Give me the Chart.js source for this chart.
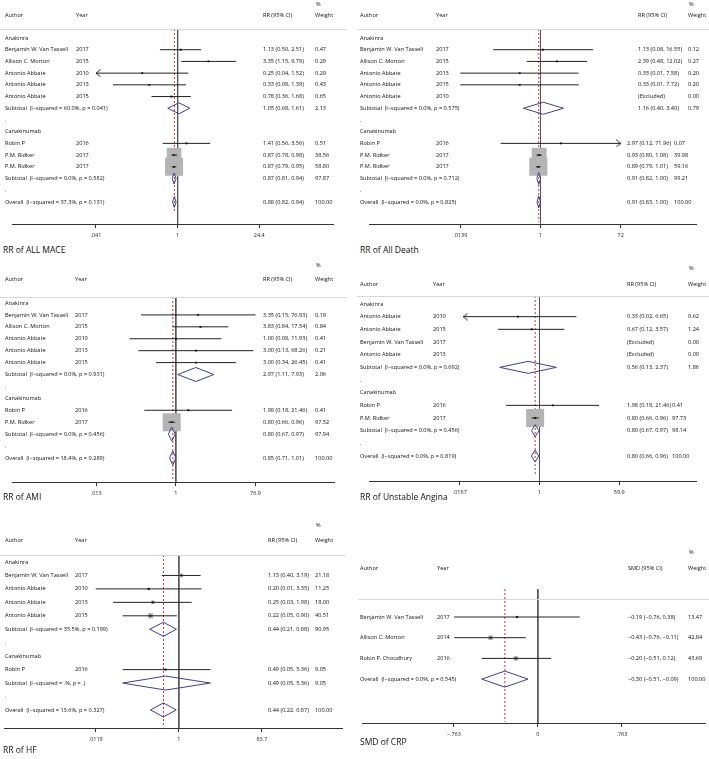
<!DOCTYPE html>
<html>
<head>
<meta charset="utf-8">
<script src="https://cdn.jsdelivr.net/npm/chart.js@4.4.1/dist/chart.umd.min.js"></script>
<style>
  body { margin: 0; background: #fff; }
  #page { position: relative; width: 709px; height: 759px; overflow: hidden; background: #fff; }
  .panel { position: absolute; }
  .title { position: absolute; font-family: "Open Sans", sans-serif; font-size: 8.5px; color: #111; white-space: nowrap; line-height: 10px; }
</style>
</head>
<body>
<div id="page"></div>
<script>
// RR of ALL MACE
const maceAuthors = ["Anakinra", "Benjamin W. Van Tassell", "Allison C. Morton", "Antonio Abbate", "Antonio Abbate", "Antonio Abbate", "Subtotal  (I\u2212squared = 60.0%, p = 0.041)", ".", "Canakinumab", "Robin P", "P.M. Ridker", "P.M. Ridker", "Subtotal  (I\u2212squared = 0.0%, p = 0.582)", ".", "Overall  (I\u2212squared = 37.3%, p = 0.131)"];
const maceYears = ["", "2017", "2015", "2010", "2013", "2015", "", "", "", "2016", "2017", "2017", "", "", ""];
const maceKinds = ["g", "s", "s", "s", "s", "s", "sub", "b", "g", "s", "s", "s", "sub", "b", "all"];
const maceEst = [null, 1.13, 3.35, 0.25, 0.33, 0.78, 1.05, null, null, 1.41, 0.87, 0.87, 0.87, null, 0.88];
const maceLow = [null, 0.50, 1.15, 0.04, 0.08, 0.36, 0.68, null, null, 0.56, 0.78, 0.79, 0.81, null, 0.82];
const maceHigh = [null, 2.51, 9.79, 1.52, 1.39, 1.68, 1.61, null, null, 3.56, 0.98, 0.95, 0.94, null, 0.94];
const maceWeight = [null, 0.47, 0.29, 0.29, 0.43, 0.65, 2.13, null, null, 0.51, 38.56, 58.80, 97.87, null, 100.00];
const maceTicks = [0.041, 1, 24.4];
const maceTickLabels = [".041", "1", "24.4"];

// RR of All Death
const deathAuthors = ["Anakinra", "Benjamin W. Van Tassell", "Allison C. Morton", "Antonio Abbate", "Antonio Abbate", "Antonio Abbate", "Subtotal  (I\u2212squared = 0.0%, p = 0.575)", ".", "Canakinumab", "Robin P", "P.M. Ridker", "P.M. Ridker", "Subtotal  (I\u2212squared = 0.0%, p = 0.712)", ".", "Overall  (I\u2212squared = 0.0%, p = 0.825)"];
const deathYears = ["", "2017", "2015", "2013", "2015", "2010", "", "", "", "2016", "2017", "2017", "", "", ""];
const deathKinds = ["g", "s", "s", "s", "s", "x", "sub", "b", "g", "s", "s", "s", "sub", "b", "all"];
const deathEst = [null, 1.13, 2.39, 0.33, 0.33, null, 1.16, null, null, 2.97, 0.93, 0.89, 0.91, null, 0.91];
const deathLow = [null, 0.08, 0.48, 0.01, 0.01, null, 0.40, null, null, 0.12, 0.80, 0.79, 0.82, null, 0.83];
const deathHigh = [null, 16.55, 12.02, 7.58, 7.72, null, 3.40, null, null, 71.96, 1.08, 1.01, 1.00, null, 1.00];
const deathWeight = [null, 0.12, 0.27, 0.20, 0.20, 0.00, 0.79, null, null, 0.07, 39.98, 59.16, 99.21, null, 100.00];
const deathTicks = [0.0139, 1, 72];
const deathTickLabels = [".0139", "1", "72"];

// RR of AMI
const amiAuthors = ["Anakinra", "Benjamin W. Van Tassell", "Allison C. Morton", "Antonio Abbate", "Antonio Abbate", "Antonio Abbate", "Subtotal  (I\u2212squared = 0.0%, p = 0.931)", ".", "Canakinumab", "Robin P", "P.M. Ridker", "Subtotal  (I\u2212squared = 0.0%, p = 0.456)", ".", "Overall  (I\u2212squared = 18.4%, p = 0.289)"];
const amiYears = ["", "2017", "2015", "2010", "2013", "2015", "", "", "", "2016", "2017", "", "", ""];
const amiKinds = ["g", "s", "s", "s", "s", "s", "sub", "b", "g", "s", "s", "sub", "b", "all"];
const amiEst = [null, 3.35, 3.83, 1.00, 3.00, 3.00, 2.97, null, null, 1.98, 0.80, 0.80, null, 0.85];
const amiLow = [null, 0.15, 0.84, 0.08, 0.13, 0.34, 1.11, null, null, 0.18, 0.66, 0.67, null, 0.71];
const amiHigh = [null, 76.93, 17.54, 11.93, 68.26, 26.45, 7.93, null, null, 21.46, 0.96, 0.97, null, 1.01];
const amiWeight = [null, 0.19, 0.84, 0.41, 0.21, 0.41, 2.06, null, null, 0.41, 97.52, 97.94, null, 100.00];
const amiTicks = [0.013, 1, 76.9];
const amiTickLabels = [".013", "1", "76.9"];

// RR of Unstable Angina
const uaAuthors = ["Anakinra", "Antonio Abbate", "Antonio Abbate", "Benjamin W. Van Tassell", "Antonio Abbate", "Subtotal  (I\u2212squared = 0.0%, p = 0.692)", ".", "Canakinumab", "Robin P", "P.M. Ridker", "Subtotal  (I\u2212squared = 0.0%, p = 0.456)", ".", "Overall  (I\u2212squared = 0.0%, p = 0.819)"];
const uaYears = ["", "2010", "2015", "2017", "2013", "", "", "", "2016", "2017", "", "", ""];
const uaKinds = ["g", "s", "s", "x", "x", "sub", "b", "g", "s", "s", "sub", "b", "all"];
const uaEst = [null, 0.33, 0.67, null, null, 0.56, null, null, 1.98, 0.80, 0.80, null, 0.80];
const uaLow = [null, 0.02, 0.12, null, null, 0.13, null, null, 0.18, 0.66, 0.67, null, 0.66];
const uaHigh = [null, 6.65, 3.57, null, null, 2.37, null, null, 21.46, 0.96, 0.97, null, 0.96];
const uaWeight = [null, 0.62, 1.24, 0.00, 0.00, 1.86, null, null, 0.41, 97.73, 98.14, null, 100.00];
const uaTicks = [0.0167, 1, 59.9];
const uaTickLabels = [".0167", "1", "59.9"];

// RR of HF
const hfAuthors = ["Anakinra", "Benjamin W. Van Tassell", "Antonio Abbate", "Antonio Abbate", "Antonio Abbate", "Subtotal  (I\u2212squared = 35.5%, p = 0.199)", ".", "Canakinumab", "Robin P", "Subtotal  (I\u2212squared = .%, p = .)", ".", "Overall  (I\u2212squared = 13.6%, p = 0.327)"];
const hfYears = ["", "2017", "2010", "2013", "2015", "", "", "", "2016", "", "", ""];
const hfKinds = ["g", "s", "s", "s", "s", "sub", "b", "g", "s", "sub", "b", "all"];
const hfEst = [null, 1.13, 0.20, 0.25, 0.22, 0.44, null, null, 0.49, 0.49, null, 0.44];
const hfLow = [null, 0.40, 0.01, 0.03, 0.05, 0.21, null, null, 0.05, 0.05, null, 0.22];
const hfHigh = [null, 3.19, 3.35, 1.98, 0.90, 0.88, null, null, 5.36, 5.36, null, 0.87];
const hfWeight = [null, 21.18, 11.25, 18.00, 40.51, 90.95, null, null, 9.05, 9.05, null, 100.00];
const hfTicks = [0.0119, 1, 83.7];
const hfTickLabels = [".0119", "1", "83.7"];

// SMD of CRP
const crpAuthors = ["Benjamin W. Van Tassell", "Allison C. Morton", "Robin P. Choudhury", "Overall  (I\u2212squared = 0.0%, p = 0.545)"];
const crpYears = ["2017", "2014", "2016", ""];
const crpKinds = ["s", "s", "s", "all"];
const crpEst = [-0.19, -0.43, -0.20, -0.30];
const crpLow = [-0.76, -0.76, -0.51, -0.51];
const crpHigh = [0.38, -0.11, 0.12, -0.09];
const crpWeight = [13.47, 42.84, 43.69, 100.00];
const crpTicks = [-0.763, 0, 0.763];
const crpTickLabels = ["\u2212.763", "0", ".763"];

const FONT = '"Open Sans", sans-serif';
const fmt = v => (v < 0 ? "\u2212" : "") + Math.abs(v).toFixed(2);

// little open chevrons for clipped confidence intervals
function arrowImg(dir) {
  const cv = document.createElement("canvas");
  cv.width = 10; cv.height = 8;
  const c = cv.getContext("2d");
  c.strokeStyle = "#222"; c.lineWidth = 1;
  c.beginPath();
  if (dir === "left") { c.moveTo(9.5, 0.5); c.lineTo(5, 4); c.lineTo(9.5, 7.5); }
  else { c.moveTo(0.5, 0.5); c.lineTo(5, 4); c.lineTo(0.5, 7.5); }
  c.stroke();
  return cv;
}

function forest(p) {
  const page = document.getElementById("page");
  const canvas = document.createElement("canvas");
  canvas.width = p.width; canvas.height = p.height;
  canvas.className = "panel";
  canvas.style.left = p.left + "px";
  canvas.style.top = p.top + "px";
  page.appendChild(canvas);

  const t = document.createElement("div");
  t.className = "title";
  t.textContent = p.title;
  t.style.left = p.titleX + "px";
  t.style.top = (p.titleY - 5) + "px";
  page.appendChild(t);

  const axisEnd = p.axisRight || (p.left + p.width);
  const chartTop = p.chartTopY || p.headerY;
  const toRow = y => (y - p.row0Y) / p.rowStep;
  const yMin = toRow(chartTop), yMax = toRow(p.axisY);
  const lu = (p.nullX - p.left) / p.pxPerUnit;
  const ru = (axisEnd - p.nullX) / p.pxPerUnit;
  const xMin = p.log ? Math.exp(-lu) : -lu;
  const xMax = p.log ? Math.exp(ru) : ru;
  const nullVal = p.log ? 1 : 0;
  const tMin = p.ticks[0], tMax = p.ticks[p.ticks.length - 1];
  const overall = p.est[p.est.length - 1];

  const ds = [];
  ds.push({ data: [{ x: nullVal, y: yMin }, { x: nullVal, y: yMax }], showLine: true, borderColor: "#555", borderWidth: 1, pointRadius: 0, order: 6 });
  ds.push({ data: [{ x: overall, y: yMin }, { x: overall, y: toRow(p.redEndY) }], showLine: true, borderColor: "#c8363a", borderWidth: 1, borderDash: [2, 2], pointRadius: 0, order: 5 });

  const boxes = [], marks = [];
  p.kinds.forEach((k, i) => {
    if (k === "s") {
      boxes.push({ x: p.est[i], y: i, r: p.boxK * Math.sqrt(p.weight[i]) / Math.SQRT2 });
      marks.push({ x: p.est[i], y: i });
      const lo = Math.max(p.low[i], tMin), hi = Math.min(p.high[i], tMax);
      ds.push({ data: [{ x: lo, y: i }, { x: hi, y: i }], showLine: true, borderColor: "#222", borderWidth: 1, pointRadius: 0, order: 3 });
    }
    if (k === "sub" || k === "all") {
      const h = p.diamondPx / p.rowStep;
      ds.push({
        data: [{ x: p.low[i], y: i }, { x: p.est[i], y: i - h }, { x: p.high[i], y: i }, { x: p.est[i], y: i + h }, { x: p.low[i], y: i }],
        showLine: true, borderColor: "#3d3f8c", borderWidth: 1, pointRadius: 0, order: 2
      });
    }
  });
  ds.push({ data: boxes, pointStyle: "rect", pointRadius: c => c.raw.r, backgroundColor: "#b4b4b4", borderWidth: 0, order: 4 });
  ds.push({ data: marks, pointStyle: "rect", pointRadius: 1.3, backgroundColor: "#111", borderWidth: 0, order: 1 });
  (p.arrows || []).forEach(([i, dir]) => {
    const x = dir === "left" ? Math.max(p.low[i], tMin) : Math.min(p.high[i], tMax);
    ds.push({ data: [{ x: x, y: i }], pointStyle: arrowImg(dir), pointRadius: 4, order: 1 });
  });

  const table = {
    id: "table",
    afterDraw(chart) {
      const c = chart.ctx, ys = chart.scales.y;
      const top = Math.round(p.headerY - p.top) + 0.5;
      const X = v => v - p.left;
      c.save();
      c.strokeStyle = "#d8d8d8"; c.lineWidth = 1;
      c.beginPath(); c.moveTo(0, top); c.lineTo(p.width, top); c.stroke();
      c.fillStyle = "#111";
      c.font = p.fontPx + "px " + FONT;
      c.textBaseline = "middle"; c.textAlign = "left";
      const hy = p.hdrY - p.top;
      c.fillText("Author", X(p.colAuthor), hy);
      c.fillText("Year", X(p.colYear), hy);
      c.fillText(p.effLabel, X(p.colEff), hy);
      c.fillText("%", X(p.colWeight + 1), p.pctY - p.top);
      c.fillText("Weight", X(p.colWeight), hy);
      p.authors.forEach((a, i) => {
        const y = ys.getPixelForValue(i);
        const k = p.kinds[i];
        c.fillText(a, X(p.colAuthor), y);
        if (p.years[i]) c.fillText(p.years[i], X(p.colYear), y);
        let eff = null;
        if (k === "x") eff = "(Excluded)";
        else if (p.est[i] != null) eff = fmt(p.est[i]) + " (" + fmt(p.low[i]) + ", " + fmt(p.high[i]) + ")";
        const sh = (p.shiftFrom != null && i >= p.shiftFrom) ? p.shift : [0, 0];
        if (eff) c.fillText(eff, X(p.colEff + sh[0]), y);
        if (p.weight[i] != null) c.fillText(p.weight[i].toFixed(2), X(p.colWeight + sh[1]), y);
      });
      c.restore();
    }
  };

  new Chart(canvas.getContext("2d"), {
    type: "scatter",
    data: { datasets: ds },
    options: {
      responsive: false,
      animation: false,
      events: [],
      layout: { padding: { top: chartTop - p.top, left: 0, right: p.left + p.width - axisEnd, bottom: 0 } },
      plugins: { legend: { display: false }, tooltip: { enabled: false } },
      scales: {
        x: {
          type: p.log ? "logarithmic" : "linear",
          min: xMin, max: xMax, bounds: "data",
          afterBuildTicks: s => { s.ticks = p.ticks.map(v => ({ value: v })); },
          afterFit: s => { s.height = p.top + p.height - p.axisY; },
          ticks: { callback: (v, i) => p.tickLabels[i], font: { family: FONT, size: 5.5 }, color: "#222", padding: 4, maxRotation: 0, autoSkip: false },
          grid: { display: true, drawOnChartArea: false, drawTicks: true, tickLength: 4, color: "#333" },
          border: { display: true, color: "#333", width: 1 }
        },
        y: { type: "linear", reverse: true, min: yMin, max: yMax, display: false }
      }
    },
    plugins: [table]
  });
}

const common = { fontPx: 5.6, log: true, effLabel: "RR (95% CI)" };

forest(Object.assign({}, common, {
  title: "RR of ALL MACE", titleX: 3, titleY: 250,
  authors: maceAuthors, years: maceYears, kinds: maceKinds, est: maceEst, low: maceLow, high: maceHigh, weight: maceWeight,
  ticks: maceTicks, tickLabels: maceTickLabels, arrows: [[3, "left"]],
  left: 0, top: 0, width: 346, height: 240,
  headerY: 29, axisY: 224, row0Y: 38, rowStep: 11.71, pctY: 4, hdrY: 15, redEndY: 213,
  colAuthor: 5, colYear: 76, colEff: 263, colWeight: 315,
  nullX: 178, pxPerUnit: 27.6, boxK: 2.35, diamondPx: 5.5
}));

forest(Object.assign({}, common, {
  title: "RR of All Death", titleX: 360, titleY: 250,
  authors: deathAuthors, years: deathYears, kinds: deathKinds, est: deathEst, low: deathLow, high: deathHigh, weight: deathWeight,
  ticks: deathTicks, tickLabels: deathTickLabels, arrows: [[9, "right"]],
  left: 357, top: 0, width: 352, height: 240, axisRight: 705,
  headerY: 29, axisY: 224, row0Y: 38, rowStep: 11.71, pctY: 4, hdrY: 15, redEndY: 222,
  colAuthor: 360, colYear: 436, colEff: 638, colWeight: 688, shiftFrom: 8, shift: [-11, -14],
  nullX: 539, pxPerUnit: 20.0, boxK: 2.35, diamondPx: 6
}));

forest(Object.assign({}, common, {
  title: "RR of AMI", titleX: 3, titleY: 497,
  authors: amiAuthors, years: amiYears, kinds: amiKinds, est: amiEst, low: amiLow, high: amiHigh, weight: amiWeight,
  ticks: amiTicks, tickLabels: amiTickLabels, arrows: [],
  left: 0, top: 255, width: 347, height: 241,
  headerY: 297, axisY: 482, row0Y: 303, rowStep: 11.92, pctY: 265, hdrY: 279, redEndY: 481,
  colAuthor: 5, colYear: 75, colEff: 263, colWeight: 315,
  nullX: 176, pxPerUnit: 19.8, boxK: 1.82, diamondPx: 7
}));

forest(Object.assign({}, common, {
  title: "RR of Unstable Angina", titleX: 360, titleY: 497,
  authors: uaAuthors, years: uaYears, kinds: uaKinds, est: uaEst, low: uaLow, high: uaHigh, weight: uaWeight,
  ticks: uaTicks, tickLabels: uaTickLabels, arrows: [[1, "left"]],
  left: 357, top: 255, width: 352, height: 241,
  headerY: 296, axisY: 481, row0Y: 304, rowStep: 12.67, pctY: 268, hdrY: 284, redEndY: 475,
  colAuthor: 360, colYear: 433, colEff: 627, colWeight: 688, shiftFrom: 7, shift: [0, -16],
  nullX: 540, pxPerUnit: 21, boxK: 1.82, diamondPx: 6
}));

forest(Object.assign({}, common, {
  title: "RR of HF", titleX: 3, titleY: 750,
  authors: hfAuthors, years: hfYears, kinds: hfKinds, est: hfEst, low: hfLow, high: hfHigh, weight: hfWeight,
  ticks: hfTicks, tickLabels: hfTickLabels, arrows: [],
  left: 0, top: 512, width: 346, height: 230,
  headerY: 555, axisY: 728, row0Y: 562, rowStep: 13.45, pctY: 525, hdrY: 540, redEndY: 725,
  colAuthor: 5, colYear: 75, colEff: 268, colWeight: 315,
  nullX: 179, pxPerUnit: 19.2, boxK: 0.83, diamondPx: 7
}));

forest(Object.assign({}, common, {
  title: "SMD of CRP", titleX: 360, titleY: 742, log: false, effLabel: "SMD (95% CI)",
  authors: crpAuthors, years: crpYears, kinds: crpKinds, est: crpEst, low: crpLow, high: crpHigh, weight: crpWeight,
  ticks: crpTicks, tickLabels: crpTickLabels, arrows: [],
  left: 358, top: 540, width: 351, height: 197,
  headerY: 599, chartTopY: 589, axisY: 723, row0Y: 617, rowStep: 20.7, pctY: 552, hdrY: 568, redEndY: 722,
  colAuthor: 360, colYear: 437, colEff: 628, colWeight: 688,
  nullX: 538, pxPerUnit: 112.7, boxK: 0.7, diamondPx: 8
}));
</script>
</body>
</html>
